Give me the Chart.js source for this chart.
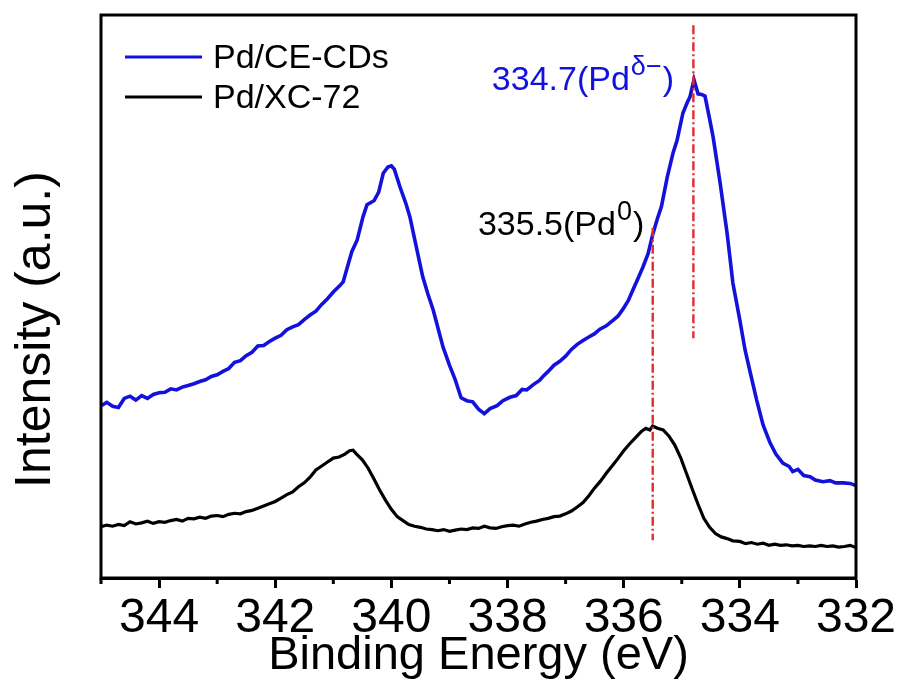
<!DOCTYPE html>
<html><head><meta charset="utf-8">
<script src="https://cdn.jsdelivr.net/npm/chart.js@4/dist/chart.umd.min.js"></script>
<style>html,body{margin:0;padding:0;background:#fff}canvas{display:block}</style>
</head><body>
<canvas id="c" width="901" height="695"></canvas>
<script>
// ---- data (binding energy in eV, intensity in arbitrary units) ----
const seriesNames = ['Pd/CE-CDs', 'Pd/XC-72'];
const energyCE = [345.00,344.90,344.80,344.70,344.60,344.50,344.40,344.30,344.20,344.10,344.00,343.90,343.80,343.70,343.60,343.50,343.40,343.30,343.20,343.10,343.00,342.90,342.80,342.70,342.60,342.50,342.40,342.30,342.20,342.10,342.00,341.90,341.80,341.70,341.60,341.50,341.40,341.30,341.20,341.10,341.00,340.90,340.83,340.75,340.68,340.59,340.49,340.42,340.30,340.22,340.14,340.06,340.00,339.95,339.85,339.75,339.68,339.56,339.46,339.37,339.28,339.20,339.11,339.00,338.90,338.80,338.70,338.60,338.50,338.40,338.30,338.18,338.08,337.96,337.85,337.75,337.67,337.55,337.45,337.39,337.30,337.20,337.10,337.00,336.90,336.80,336.70,336.60,336.50,336.41,336.30,336.18,336.10,336.01,335.92,335.84,335.75,335.67,335.58,335.50,335.42,335.35,335.25,335.15,335.08,334.98,334.90,334.86,334.79,334.72,334.66,334.60,334.52,334.46,334.34,334.22,334.12,334.00,333.91,333.83,333.71,333.60,333.48,333.38,333.26,333.15,333.09,333.00,332.90,332.79,332.70,332.57,332.45,332.35,332.22,332.10,332.00];
const intensityCE = [30.6,31.2,30.5,30.3,31.9,32.3,31.6,32.4,31.9,32.6,32.9,33.0,33.6,33.4,33.9,34.2,34.5,34.9,35.2,35.8,36.1,36.7,37.2,38.3,38.6,39.5,40.1,41.2,41.3,42.0,42.6,43.1,44.1,44.6,45.0,45.9,46.7,47.4,48.6,49.6,50.8,51.8,52.6,55.5,58.0,60.0,64.1,66.3,67.0,68.5,71.9,73.0,73.2,72.6,69.4,66.5,64.1,58.3,53.5,50.4,47.6,44.5,41.0,37.8,35.2,32.0,31.5,31.3,30.0,29.2,30.1,30.6,31.5,32.1,32.4,33.5,33.4,34.4,35.1,35.8,36.7,37.8,38.5,39.4,40.6,41.5,42.2,42.8,43.4,44.2,44.8,45.8,46.5,47.8,49.3,51.2,53.3,55.2,57.6,61.0,63.8,66.0,71.2,75.5,77.8,82.6,84.6,85.4,88.5,86.0,85.9,85.6,81.5,78.3,70.2,61.3,52.4,45.8,40.5,36.9,31.6,27.2,24.0,22.0,20.4,19.8,18.9,19.3,18.2,18.0,17.4,17.1,17.3,16.9,16.9,16.8,16.4];
const energyXC = [345.00,344.90,344.80,344.70,344.60,344.50,344.40,344.30,344.20,344.10,344.00,343.90,343.80,343.70,343.60,343.50,343.40,343.30,343.20,343.10,343.00,342.90,342.80,342.70,342.60,342.50,342.40,342.30,342.20,342.10,342.00,341.90,341.80,341.70,341.60,341.50,341.40,341.30,341.20,341.10,341.00,340.90,340.80,340.72,340.66,340.60,340.50,340.40,340.30,340.20,340.10,340.00,339.90,339.80,339.70,339.60,339.50,339.40,339.30,339.20,339.10,339.00,338.90,338.80,338.70,338.60,338.50,338.40,338.30,338.20,338.10,338.00,337.90,337.80,337.70,337.60,337.50,337.40,337.30,337.20,337.10,337.00,336.90,336.80,336.70,336.60,336.50,336.40,336.30,336.20,336.10,336.00,335.90,335.80,335.70,335.62,335.55,335.50,335.42,335.32,335.22,335.12,335.02,334.92,334.82,334.72,334.62,334.52,334.42,334.32,334.22,334.12,334.00,333.90,333.80,333.70,333.60,333.50,333.40,333.30,333.20,333.10,333.00,332.90,332.80,332.70,332.60,332.50,332.40,332.30,332.20,332.10,332.00];
const intensityXC = [9.1,9.4,9.2,9.5,9.3,10.0,9.6,9.8,10.1,9.7,10.0,9.9,10.2,10.4,10.1,10.6,10.5,10.8,10.6,11.0,11.1,10.9,11.3,11.5,11.4,11.8,12.0,12.4,12.8,13.2,13.6,14.2,14.8,15.3,16.2,16.9,17.9,19.2,19.9,20.6,21.3,21.5,22.0,22.6,22.7,22.0,21.0,19.5,17.6,15.6,13.8,12.2,10.9,10.2,9.5,9.2,9.0,8.7,8.6,8.4,8.6,8.3,8.5,8.7,8.6,8.9,8.8,9.2,8.9,8.8,9.1,9.3,9.4,9.2,9.6,9.9,10.1,10.4,10.6,10.9,11.0,11.4,11.9,12.6,13.4,14.6,16.0,17.2,18.6,19.9,21.2,22.6,23.8,24.9,26.0,26.6,26.3,27.0,26.6,26.3,25.2,23.6,21.4,18.6,15.8,13.1,10.6,9.0,7.9,7.3,7.0,6.6,6.5,6.1,6.3,6.0,6.2,5.8,6.0,5.8,5.9,5.7,5.8,5.6,5.7,5.6,5.8,5.6,5.7,5.5,5.6,5.8,5.4];
// reference peak markers
const markerEnergy = [334.8, 335.5];
const markerTop = [98.2, 62.2];
const markerBottom = [42.6, 6.7];
const markerLabel = ['334.7(Pd', '335.5(Pd'];
const markerSup = ['\u03B4\u2212', '0'];
const xTickValues = [344, 342, 340, 338, 336, 334, 332];
const xTitle = 'Binding Energy (eV)';
const yTitle = 'Intensity (a.u.)';

const FONT = "'Liberation Sans', Arial, sans-serif";
const toXY = (xs, ys) => xs.map((x, i) => ({x, y: ys[i]}));

const colors = ['#1212dc', '#000000'];
const markerColors = ['#1212dc', '#000000'];

const datasets = [
  {label: seriesNames[0], data: toXY(energyCE, intensityCE), borderColor: colors[0], borderWidth: 3.6, pointRadius: 0, tension: 0, order: 2},
  {label: seriesNames[1], data: toXY(energyXC, intensityXC), borderColor: colors[1], borderWidth: 3.2, pointRadius: 0, tension: 0, order: 2}
];
markerEnergy.forEach((e, i) => {
  datasets.push({label: 'marker' + i, data: [{x: e, y: markerTop[i]}, {x: e, y: markerBottom[i]}],
    borderColor: '#e32b2b', borderWidth: 2.4, borderDash: [9, 3, 2, 3], pointRadius: 0, order: 1});
});

const overlay = {
  id: 'overlay',
  afterDraw(chart) {
    const {ctx, chartArea: a, scales} = chart;
    const xs = scales.x, ys = scales.y;
    ctx.save();
    // frame
    ctx.strokeStyle = '#000'; ctx.lineWidth = 3;
    ctx.strokeRect(a.left, a.top, a.right - a.left, a.bottom - a.top);
    // minor ticks
    for (let v = 333; v <= 345; v += 2) {
      const px = xs.getPixelForValue(v);
      ctx.beginPath(); ctx.moveTo(px, a.bottom); ctx.lineTo(px, a.bottom + 6); ctx.stroke();
    }
    // legend
    ctx.font = '34px ' + FONT; ctx.textBaseline = 'alphabetic'; ctx.textAlign = 'left';
    seriesNames.forEach((n, i) => {
      const ly = a.top + 42 + i * 40;
      ctx.strokeStyle = colors[i]; ctx.lineWidth = 3.2;
      ctx.beginPath(); ctx.moveTo(a.left + 24, ly); ctx.lineTo(a.left + 101, ly); ctx.stroke();
      ctx.fillStyle = '#000';
      ctx.fillText(n, a.left + 112, ly + 11);
    });
    // peak annotations
    const anchors = [[338.27, 86.7], [338.51, 60.9]];
    markerLabel.forEach((t, i) => {
      let x0 = xs.getPixelForValue(anchors[i][0]);
      const y0 = ys.getPixelForValue(anchors[i][1]);
      ctx.fillStyle = markerColors[i];
      ctx.font = '34px ' + FONT;
      ctx.fillText(t, x0, y0);
      x0 += ctx.measureText(t).width + 1;
      ctx.font = '27px ' + FONT;
      ctx.fillText(markerSup[i], x0, y0 - 15);
      x0 += ctx.measureText(markerSup[i]).width + 1;
      ctx.font = '34px ' + FONT;
      ctx.fillText(')', x0, y0);
    });
    // y title
    ctx.fillStyle = '#000';
    ctx.font = '50px ' + FONT;
    ctx.translate(50, (a.top + a.bottom) / 2 + 33);
    ctx.rotate(-Math.PI / 2);
    ctx.textAlign = 'center'; ctx.textBaseline = 'alphabetic';
    ctx.fillText(yTitle, 0, 0);
    ctx.restore();
  }
};

new Chart(document.getElementById('c'), {
  type: 'line',
  data: {datasets},
  options: {
    responsive: false, animation: false,
    layout: {padding: {left: 0, top: 15, right: 45, bottom: 0}},
    plugins: {legend: {display: false}, tooltip: {enabled: false}},
    scales: {
      x: {
        type: 'linear', min: 332, max: 345, reverse: true,
        afterBuildTicks: s => { s.ticks = xTickValues.map(v => ({value: v})); },
        afterFit: s => { s.height = 117; },
        ticks: {autoSkip: false, maxRotation: 0, padding: 2, color: '#000', font: {family: FONT, size: 48}},
        grid: {drawOnChartArea: false, drawTicks: true, tickLength: 10, tickWidth: 3, tickColor: '#000'},
        border: {display: true, color: '#000', width: 3},
        title: {display: true, text: xTitle, color: '#000', font: {family: FONT, size: 47, lineHeight: 1}, padding: {top: 0, bottom: 15}}
      },
      y: {
        type: 'linear', min: 0, max: 100,
        afterFit: s => { s.width = 101; },
        ticks: {display: false},
        grid: {display: false},
        border: {display: false}
      }
    }
  },
  plugins: [overlay]
});
</script>
</body></html>
